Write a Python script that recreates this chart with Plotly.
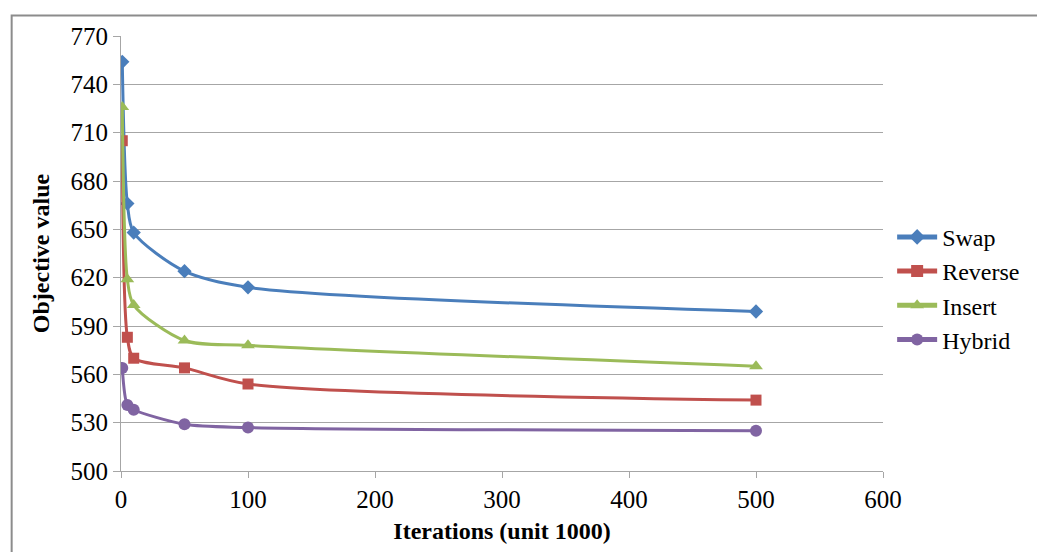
import plotly.graph_objects as go

# Iterations in thousands
iterations = [1, 5, 10, 50, 100, 500]

swap = [754, 666, 648, 624, 614, 599]
reverse = [705, 583, 570, 564, 554, 544]
insert = [726, 619, 603, 581, 578, 565]
hybrid = [564, 541, 538, 529, 527, 525]

series = [
    ("Swap", swap, "#4A7EBB", "diamond", 11),
    ("Reverse", reverse, "#C0504D", "square", 11),
    ("Insert", insert, "#9BBB59", "triangle-up", 12),
    ("Hybrid", hybrid, "#8064A2", "circle", 12),
]

x_ticks = [0, 100, 200, 300, 400, 500, 600]
y_ticks = [500, 530, 560, 590, 620, 650, 680, 710, 740, 770]

FONT = "Liberation Serif"

fig = go.Figure()
for name, vals, color, sym, size in series:
    fig.add_trace(go.Scatter(
        x=iterations, y=vals, name=name, mode="lines+markers",
        line=dict(color=color, width=3, shape="spline", smoothing=0.8),
        marker=dict(symbol=sym, size=size, color=color),
    ))

fig.update_layout(
    width=1037, height=552,
    margin=dict(l=121, r=152, t=36, b=81),
    paper_bgcolor="white", plot_bgcolor="white",
    font=dict(family=FONT, size=24, color="black"),
    showlegend=True,
    legend=dict(x=1.012, y=0.42, xanchor="left", yanchor="middle",
                font=dict(family=FONT, size=24, color="black"),
                tracegroupgap=0, itemwidth=40, itemsizing="constant",
                bgcolor="rgba(0,0,0,0)"),
    xaxis=dict(
        range=[0, 600], tickvals=x_ticks, showgrid=False,
        showline=True, linecolor="#a6a6a6", linewidth=1,
        ticks="outside", ticklen=6, tickcolor="#a6a6a6",
        tickfont=dict(family=FONT, size=25),
        zeroline=False,
        title=dict(text="<b>Iterations (unit 1000)</b>",
                   font=dict(family=FONT, size=24), standoff=10),
    ),
    yaxis=dict(
        range=[500, 770], tickvals=y_ticks, showgrid=True,
        gridcolor="#a6a6a6", gridwidth=1,
        showline=True, linecolor="#a6a6a6", linewidth=1,
        ticks="outside", ticklen=7, tickcolor="#a6a6a6",
        tickfont=dict(family=FONT, size=25),
        zeroline=False,
        title=dict(text="<b>Objective value</b>",
                   font=dict(family=FONT, size=24), standoff=14),
    ),
)

# Outer chart border
fig.add_shape(type="rect", xref="paper", yref="paper",
              x0=-0.1435, x1=1.4, y0=-0.4, y1=1.047,
              line=dict(color="#8c8c8c", width=2), layer="below")

fig.write_html("out.html")
